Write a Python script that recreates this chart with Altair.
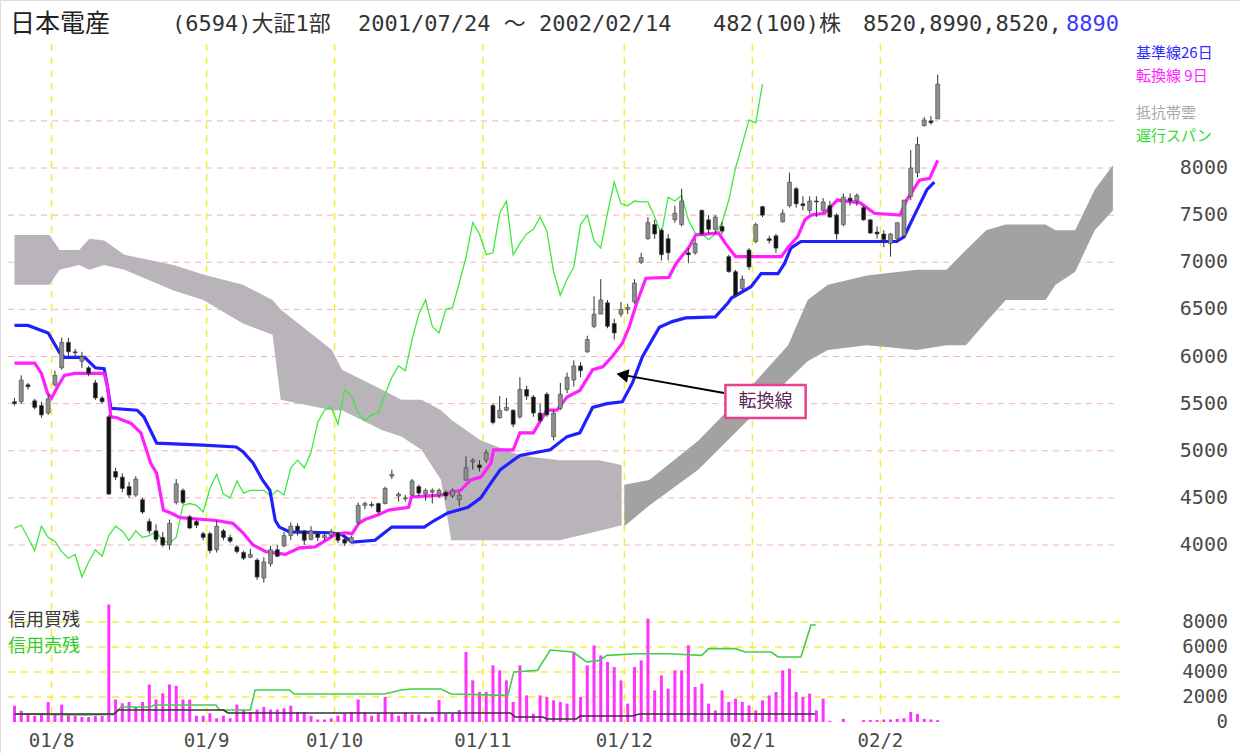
import altair as alt
import pandas as pd

# ---------------- data ----------------
opens = [5520,5520,5700,5530,5480,5400,5700,5880,6150,6050,5950,5880,5720,5560,5360,4780,4720,4620,4530,4480,
         4250,4150,4080,4000,4450,4580,4300,4250,4120,4120,3950,4150,4080,3980,3920,3870,3840,3650,3800,3950,
         3990,4100,4200,4150,4060,4120,4080,4100,4130,4060,4030,4240,4420,4430,4440,4440,4730,4520,4490,4530,
         4620,4540,4560,4530,4560,4520,4480,4690,4880,4850,4900,5480,5350,5430,5430,5360,5650,5570,5400,5600,
         5150,5450,5650,5750,5900,6050,6320,6450,6570,6350,6450,6500,6580,7000,7250,7400,7340,7250,7450,7400,
         7100,7100,7550,7450,7350,7380,7060,6900,6720,7130,7220,7590,7250,7280,7430,7600,7780,7620,7550,7650,
         7550,7600,7500,7400,7680,7650,7580,7450,7320,7300,7200,7250,7280,7700,7950,8450,8500,8520]
highs = [5560,5800,5720,5550,5520,5600,5850,6200,6200,6080,6050,5900,5750,5580,5380,4820,4760,4670,4730,4500,
         4280,4220,4140,4270,4700,4600,4320,4270,4140,4140,4260,4170,4110,4000,3940,3960,3860,3870,3990,4000,
         4140,4240,4230,4160,4200,4140,4130,4170,4140,4100,4100,4450,4460,4460,4450,4620,4800,4560,4530,4700,
         4640,4600,4600,4600,4580,4600,4560,4940,4920,4900,5010,5500,5580,5560,5440,5780,5690,5590,5500,5620,
         5430,5720,5830,5960,5940,6220,6640,6820,6600,6400,6580,6560,6820,7100,7480,7450,7360,7300,7600,7780,
         7150,7250,7560,7500,7500,7430,7080,6920,6860,7150,7420,7600,7280,7300,7560,7950,7800,7700,7700,7700,
         7680,7650,7520,7730,7730,7730,7600,7460,7380,7340,7310,7420,7660,8190,8330,8540,8550,8990]
lows = [5480,5500,5650,5440,5350,5380,5680,5860,6000,6000,5880,5790,5540,5500,4530,4690,4560,4500,4510,4330,
        4120,4030,3980,3950,4430,4430,4170,4180,4050,3910,3920,4050,4020,3910,3840,3860,3630,3600,3770,3870,
        3980,4050,4100,4000,4050,4040,4050,4080,4020,3990,4020,4220,4380,4400,4330,4430,4700,4460,4460,4520,
        4520,4470,4440,4500,4480,4500,4410,4680,4800,4780,4870,5280,5340,5420,5250,5340,5540,5360,5300,5360,
        5110,5430,5610,5680,5780,6040,6300,6450,6300,6180,6420,6450,6560,6980,7240,7250,7020,7020,7420,7380,
        6990,7080,7290,7300,7300,7300,6890,6630,6700,6920,7200,7480,7200,7100,7420,7580,7580,7550,7520,7480,
        7530,7470,7240,7380,7600,7600,7440,7300,7250,7160,7060,7210,7260,7660,7900,8440,8460,8520]
closes = [5500,5750,5680,5460,5380,5550,5800,6150,6050,6040,6000,5820,5560,5520,4540,4720,4600,4530,4700,4350,
          4150,4060,4000,4230,4650,4450,4180,4210,4080,3940,4200,4080,4040,3930,3860,3900,3660,3820,3950,3880,
          4100,4200,4150,4050,4150,4080,4100,4140,4050,4020,4080,4420,4440,4420,4350,4600,4750,4540,4500,4680,
          4550,4580,4580,4580,4520,4580,4530,4820,4900,4820,4980,5300,5430,5460,5280,5650,5580,5400,5320,5380,
          5400,5600,5780,5900,5850,6180,6450,6600,6320,6250,6500,6520,6780,7050,7420,7300,7080,7100,7520,7650,
          7080,7200,7300,7350,7480,7330,6900,6650,6820,6950,7400,7500,7230,7150,7520,7850,7620,7600,7650,7640,
          7640,7480,7300,7690,7650,7710,7450,7310,7300,7240,7300,7420,7660,8000,8250,8510,8480,8890]

kijun_i = [0,2,5,6.7,7.4,10.4,12,13.3,13.8,14.3,18.2,19.2,21.1,28,32.9,33.9,35.4,36.8,37.9,38.7,39.3,40.8,
           46.7,48.6,50.1,53.5,54.9,56,60.8,62.3,64.3,67.3,69.2,70.7,72.1,75,79.5,82,83.9,85.8,87.9,90.2,91.7,
           93.2,95.7,97.6,99.6,104,105.9,106.4,109.3,110.8,113.3,114.3,115.2,116.7,130.9,132,133.9,135.4,136.5]
kijun_v = [6330,6330,6250,6040,5990,5990,5880,5870,5680,5450,5430,5360,5080,5060,5040,4990,4870,4690,4580,4260,
           4190,4140,4130,4110,4030,4050,4130,4190,4190,4260,4340,4400,4500,4660,4800,4950,5010,5150,5190,5460,
           5500,5520,5720,6000,6310,6370,6410,6420,6570,6620,6740,6880,6880,6990,7150,7220,7220,7270,7550,7770,7850]

tenkan_i = [0,3,4,4.9,5.5,6.4,7.4,8.9,13.3,13.8,14.3,15.2,17.3,18.75,20.2,21.1,22.1,23.2,24.6,29.9,32.4,33.9,
            35.4,37.3,40.2,42.3,44.6,47.6,49,50.1,51.1,52,54,55.5,58.5,58.9,63.3,66.2,67.7,69.2,70.7,71.1,74,75,
            77,79,80.5,82,83.9,85.8,87.3,88.7,90.2,91.2,92.3,93.7,97.1,98.2,100.1,101.1,104.5,105.5,107,113.8,
            114.8,116.2,117.3,118.2,120.2,122.1,125.5,127.6,131.4,132.4,134.3,135.8,137]
tenkan_v = [5930,5930,5820,5610,5560,5680,5800,5820,5820,5680,5360,5350,5290,5190,4870,4760,4370,4340,4290,4260,
            4230,4130,4000,3930,3900,3970,3980,4110,4130,4120,4230,4270,4320,4370,4400,4510,4530,4580,4690,4720,
            4870,5010,5010,5190,5190,5430,5430,5570,5640,5860,5890,6000,6140,6310,6560,6830,6840,6990,7160,7290,
            7310,7200,7060,7060,7160,7270,7450,7500,7520,7660,7630,7520,7500,7660,7870,7890,8080]

cloudA_i = [0,5.2,6.7,9.6,11.1,13.3,16.3,23.6,28,33.9,38.3,39.5,47.1,48.6,54.5,57.4,60.4,63.3,64.8,69.2,75.1,80.9,86.8,90.1]
cloudA_top = [7290,7290,7130,7130,7250,7230,7080,6970,6870,6760,6600,6500,6070,5860,5650,5540,5540,5430,5330,5110,4950,4900,4900,4850]
cloudA_bot = [6760,6760,6920,6970,6920,6970,6920,6700,6600,6350,6230,5540,5430,5430,5220,5150,5010,4690,4050,4050,4050,4050,4150,4210]

cloudB_i = [90.5,94.2,101.5,108.9,114.8,117.7,120.7,126.5,133.9,138.3,141.2,144.2,147.1,153,154.5,157.4,160.3,163]
cloudB_top = [4640,4690,5110,5650,6120,6600,6760,6860,6920,6920,7130,7340,7400,7400,7340,7340,7770,8030]
cloudB_bot = [4200,4420,4800,5330,5750,5950,6070,6120,6070,6120,6120,6370,6600,6600,6760,6900,7340,7550]

volume = [1300,900,700,500,700,1600,700,1400,600,500,400,400,500,500,9400,1800,1500,1600,1200,1600,
          3000,1800,2300,3000,2900,1800,1800,500,500,700,300,500,300,1400,1000,800,1000,1200,1000,1000,
          1100,1300,800,800,500,200,200,300,500,700,800,1800,800,500,700,2000,700,500,800,600,
          600,300,400,1760,640,640,960,5600,3330,2400,2400,4530,4130,3330,1600,4530,2130,660,2130,2000,
          1730,1600,1470,5600,2000,4530,6130,5330,4800,4400,3330,1470,4400,4930,8270,2530,3730,2670,4130,4130,
          6130,2800,3070,1470,930,2530,1600,1870,1600,1330,930,1730,2130,2400,4130,4270,2400,2000,2270,930,
          1870,100,0,250,0,0,150,150,150,200,200,250,300,800,650,250,200,150]

sell_i = [0,9.9,14.8,15.8,20.2,20.7,29.9,30.4,35,35.7,40.8,41.5,54.9,57.4,58.9,63.3,64.8,73.2,74.1,77.6,79.5,
          82.9,84.9,86.8,87.9,92.3,97.1,102,103,107,108.4,112.3,113.3,116.7,118.2,118.9]
sell_v = [640,560,600,1200,1200,1360,1360,960,960,2560,2560,2240,2240,2560,2640,2640,2240,2130,4000,4130,5760,
          5600,4800,4930,5330,5460,5460,5330,5870,5870,5600,5600,5200,5200,7760,7760]
buy_i = [0,14.8,15.4,31,31.7,50,60.4,73.6,74.3,78.4,79,83.4,83.9,91.7,92.7,118.8]
buy_v = [640,640,960,960,720,720,720,720,400,400,240,240,480,480,640,640]

month_pos = [5.5, 28.5, 47.5, 69.5, 90.5, 109.5, 128.5]
month_labels = ["01/8", "01/9", "01/10", "01/11", "01/12", "02/1", "02/2"]
price_ticks = [4000, 4500, 5000, 5500, 6000, 6500, 7000, 7500, 8000]
price_grid = [4000, 4500, 5000, 5500, 6000, 6500, 7000, 7500, 8000, 8500]
vol_ticks = [0, 2000, 4000, 6000, 8000]
vol_grid = [2000, 4000, 6000, 8000]

# annotation (arrow pointing at the conversion line)
ann_label = "転換線"
ann_box = {"i1": [105.5], "i2": [117.4], "p1": [5347], "p2": [5698]}
ann_arrow = {"i": [105.3, 90.2], "p": [5612, 5805]}

# ---------------- frames ----------------
N = len(closes)
candles = pd.DataFrame({"i": list(range(N)), "o": opens, "h": highs, "l": lows, "c": closes})
candles["dir"] = ["up" if c >= o else "down" for o, c in zip(opens, closes)]
chikou = pd.DataFrame({"i": [k - 26 for k in range(26, N)], "c": closes[26:]})
kijun = pd.DataFrame({"i": kijun_i, "v": kijun_v})
tenkan = pd.DataFrame({"i": tenkan_i, "v": tenkan_v})
cloudA = pd.DataFrame({"i": cloudA_i, "t": cloudA_top, "b": cloudA_bot})
cloudB = pd.DataFrame({"i": cloudB_i, "t": cloudB_top, "b": cloudB_bot})
vol = pd.DataFrame({"i": list(range(N)), "v": volume})
sell = pd.DataFrame({"i": sell_i, "v": sell_v})
buy = pd.DataFrame({"i": buy_i, "v": buy_v})
months = pd.DataFrame({"pos": month_pos, "lab": month_labels})
pt = pd.DataFrame({"p": price_ticks})
pg = pd.DataFrame({"p": price_grid})
vt = pd.DataFrame({"v": vol_ticks})
vg = pd.DataFrame({"v": vol_grid})
box = pd.DataFrame(ann_box)
box["t"] = [ann_label]
box["im"] = (box["i1"] + box["i2"]) / 2
box["pm"] = (box["p1"] + box["p2"]) / 2
arrow = pd.DataFrame(ann_arrow)
arrow_head = arrow.iloc[[1]]

# ---------------- scales ----------------
X = alt.Scale(domain=[0, 163], range=[9.5, 9.5 + 163 * 6.8], zero=False, nice=False)
YP = alt.Scale(domain=[4000, 8000], range=[545, 168], zero=False, nice=False)
YV = alt.Scale(domain=[0, 8000], range=[722, 622], zero=False, nice=False)

def xi(field="i"):
    return alt.X(f"{field}:Q", scale=X, axis=None)

def yp(field):
    return alt.Y(f"{field}:Q", scale=YP, axis=None)

def yv(field):
    return alt.Y(f"{field}:Q", scale=YV, axis=None)

JP = "Noto Sans CJK JP"
MONO = "DejaVu Sans Mono, Noto Sans CJK JP"
GRAY = "#4a4a4a"

layers = []

# grid
layers.append(alt.Chart(pg).mark_rule(color="#f6b4b4", strokeDash=[6, 5], strokeWidth=1).encode(
    y=alt.Y("p:Q", scale=YP, axis=None), x=alt.value(8), x2=alt.value(1118)))
layers.append(alt.Chart(vg).mark_rule(color="#f3ee3c", strokeDash=[7, 6], strokeWidth=1.5).encode(
    y=yv("v"), x=alt.value(8), x2=alt.value(1120)))
layers.append(alt.Chart(months).mark_rule(color="#f3ee3c", strokeDash=[7, 6], strokeWidth=1.5).encode(
    x=xi("pos"), y=alt.value(44), y2=alt.value(724)))

# cloud
layers.append(alt.Chart(cloudA).mark_area(color="#b8b4b9", opacity=1).encode(
    x=xi(), y=yp("t"), y2="b:Q"))
layers.append(alt.Chart(cloudB).mark_area(color="#a2a2a2", opacity=1).encode(
    x=xi(), y=yp("t"), y2="b:Q"))

# lagging span
layers.append(alt.Chart(chikou).mark_line(color="#3fe83f", strokeWidth=1.3).encode(x=xi(), y=yp("c")))
# base line and conversion line
layers.append(alt.Chart(kijun).mark_line(color="#1f1fff", strokeWidth=3.2).encode(x=xi(), y=yp("v")))
layers.append(alt.Chart(tenkan).mark_line(color="#ff1fff", strokeWidth=3.2).encode(x=xi(), y=yp("v")))

# candles
layers.append(alt.Chart(candles).mark_rule(color="#303030", strokeWidth=1).encode(
    x=xi(), y=yp("l"), y2="h:Q"))
layers.append(alt.Chart(candles).mark_bar(width=4, stroke="#444444", strokeWidth=0.6).encode(
    x=xi(), y=yp("o"), y2="c:Q",
    color=alt.Color("dir:N", scale=alt.Scale(domain=["up", "down"], range=["#8e8e8e", "#111111"]), legend=None)))

# volume
layers.append(alt.Chart(vol).mark_bar(width=3, color="#ff33ff").encode(x=xi(), y=yv("v")))
layers.append(alt.Chart(sell).mark_line(color="#47cc47", strokeWidth=1.6).encode(x=xi(), y=yv("v")))
layers.append(alt.Chart(buy).mark_line(color="#333333", strokeWidth=1.6).encode(x=xi(), y=yv("v")))

# annotation
layers.append(alt.Chart(arrow).mark_line(color="#000000", strokeWidth=2).encode(x=xi(), y=yp("p")))
layers.append(alt.Chart(arrow_head).mark_point(shape="triangle-left", size=190, filled=True, color="#000000",
                                               opacity=1, angle=10).encode(x=xi(), y=yp("p")))
layers.append(alt.Chart(box).mark_rect(fill="#ffffff", stroke="#e8408c", strokeWidth=2.5).encode(
    x=xi("i1"), x2="i2:Q", y=yp("p1"), y2="p2:Q"))
layers.append(alt.Chart(box).mark_text(font=JP, fontSize=18, color="#5a2a5a", baseline="middle").encode(
    x=xi("im"), y=yp("pm"), text="t:N"))

# axis labels
layers.append(alt.Chart(pt).mark_text(font=MONO, fontSize=20, color=GRAY, align="right", baseline="middle").encode(
    y=yp("p"), x=alt.value(1228), text=alt.Text("p:Q", format="d")))
layers.append(alt.Chart(vt).mark_text(font=MONO, fontSize=19, color=GRAY, align="right", baseline="middle").encode(
    y=yv("v"), x=alt.value(1228), text=alt.Text("v:Q", format="d")))
layers.append(alt.Chart(months).mark_text(font=MONO, fontSize=19, color=GRAY, align="center", baseline="middle").encode(
    x=xi("pos"), y=alt.value(741), text="lab:N"))

def label(txt, x, y, size, color, font=JP, weight="normal"):
    return alt.Chart(pd.DataFrame({"t": [txt]})).mark_text(
        font=font, fontSize=size, color=color, align="left", baseline="middle", fontWeight=weight
    ).encode(x=alt.value(x), y=alt.value(y), text="t:N")

# title
layers.append(label("日本電産", 10, 24, 25, "#222222"))
layers.append(label("(6594)大証1部", 172, 24, 22, "#333333", MONO))
layers.append(label("2001/07/24 ～ 2002/02/14", 358, 24, 22, "#333333", MONO))
layers.append(label("482(100)株", 713, 24, 22, "#333333", MONO))
layers.append(label("8520,8990,8520,", 863, 24, 22, "#333333", MONO))
layers.append(label("8890", 1066, 24, 22, "#3b3bff", MONO))

# legends
layers.append(label("基準線26日", 1136, 53, 15, "#2a2aff"))
layers.append(label("転換線 9日", 1136, 76, 15, "#ff22ff"))
layers.append(label("抵抗帯雲", 1136, 113, 15, "#a8a8a8"))
layers.append(label("遅行スパン", 1136, 136, 15, "#33dd33"))
layers.append(label("信用買残", 8, 621, 18, "#3a3a3a"))
layers.append(label("信用売残", 8, 647, 18, "#33cc33"))

chart = alt.layer(*layers).resolve_scale(y="independent").properties(
    width=1240, height=753, autosize=alt.AutoSizeParams(type="none"), padding=0
).configure_view(stroke=None).configure(background="white")

chart.save("out.html", embed_options={"renderer": "svg", "actions": False})
